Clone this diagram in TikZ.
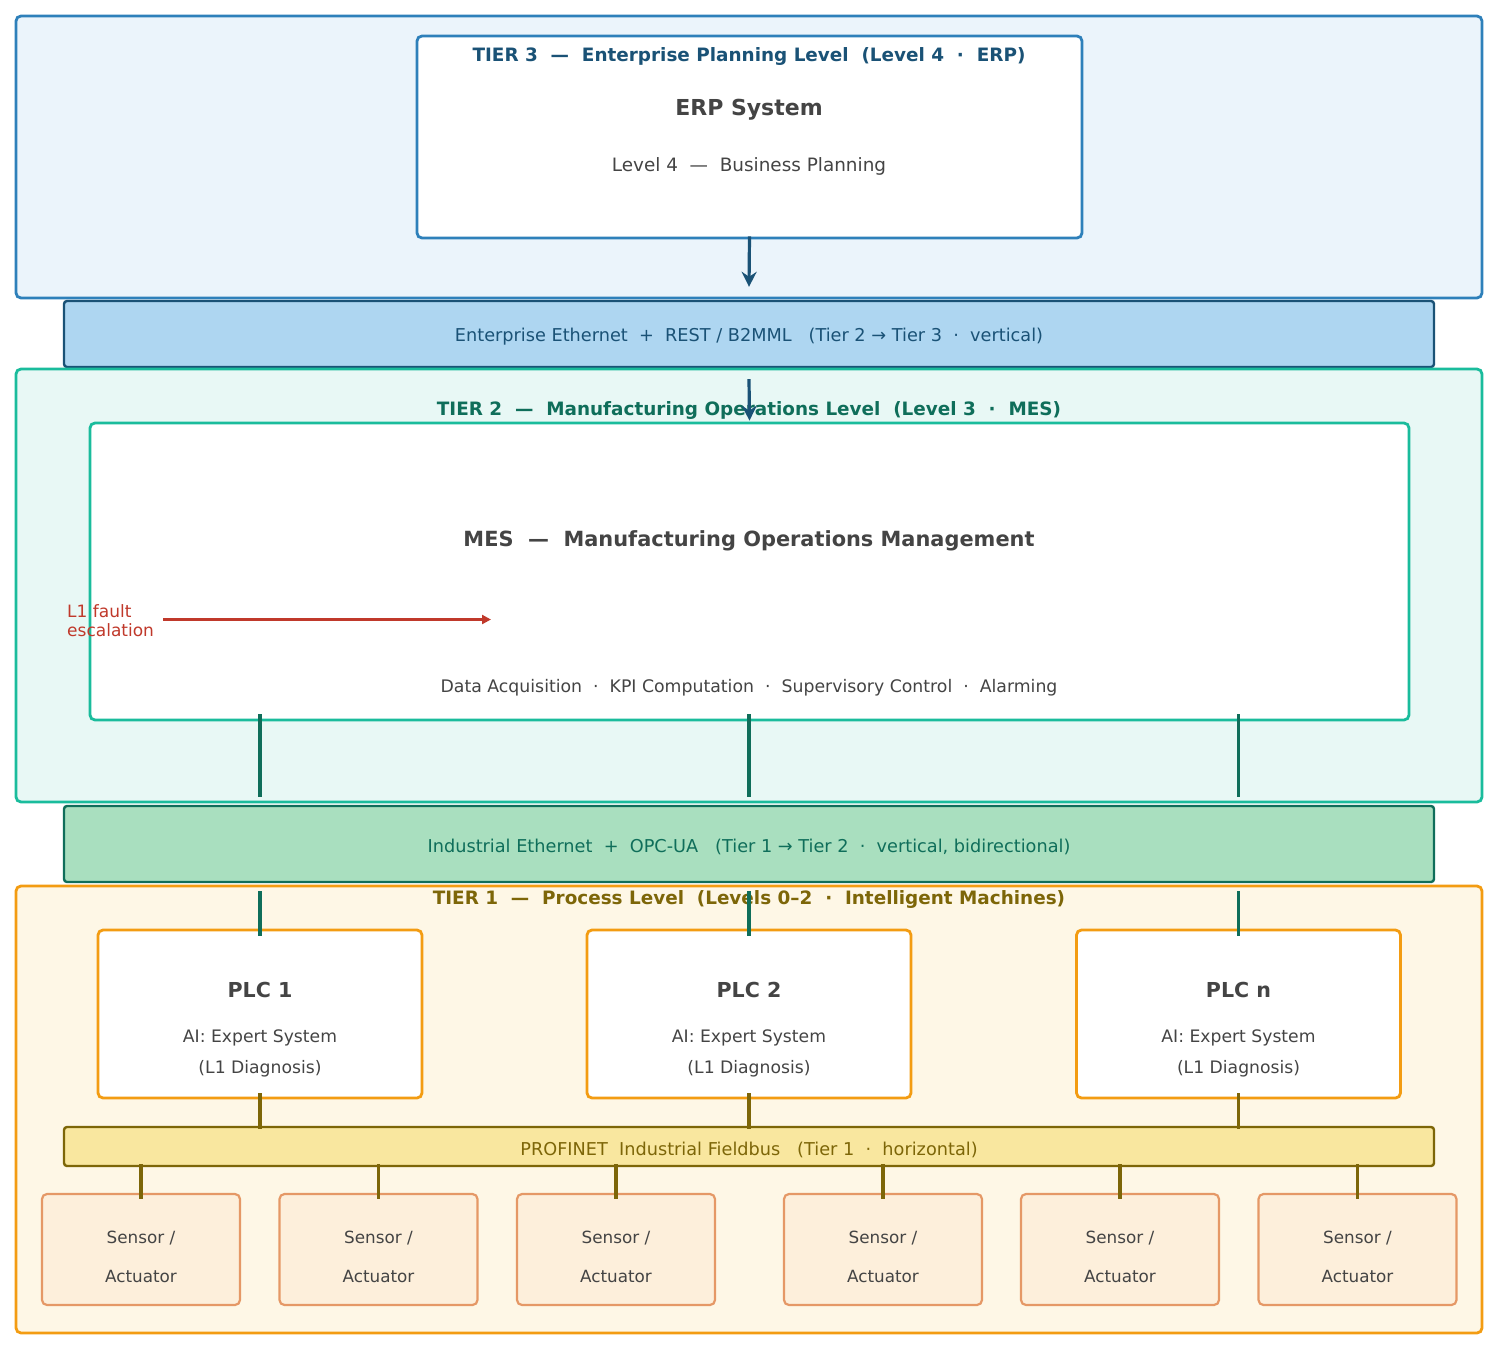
\documentclass[tikz,border=0pt]{standalone}
\usepackage{fontspec}
\setmainfont{DejaVu Sans}
\usetikzlibrary{arrows.meta}
\definecolor{tthreefill}{HTML}{EBF4FB}
\definecolor{tthreeline}{HTML}{2E80BA}
\definecolor{darkblue}{HTML}{1A5276}
\definecolor{bandone}{HTML}{AED6F1}
\definecolor{ttwofill}{HTML}{E8F8F5}
\definecolor{ttwoline}{HTML}{1ABC9C}
\definecolor{darkgreen}{HTML}{0F6E5A}
\definecolor{bandtwo}{HTML}{A9DFBF}
\definecolor{tonefill}{HTML}{FEF7E6}
\definecolor{toneline}{HTML}{F39C12}
\definecolor{olive}{HTML}{7D6608}
\definecolor{bandthree}{HTML}{F9E79F}
\definecolor{sensfill}{HTML}{FDEFDB}
\definecolor{sensline}{HTML}{E59866}
\definecolor{txtgray}{HTML}{444444}
\definecolor{faultred}{HTML}{C0392B}
\begin{document}
\begin{tikzpicture}[x=1pt,y=-1pt,
  box/.style={rectangle,rounded corners=5pt,inner sep=0pt,line width=2.8pt},
  tierthree/.style={box,draw=tthreeline,fill=tthreefill},
  tiertwo/.style={box,draw=ttwoline,fill=ttwofill},
  tierone/.style={box,draw=toneline,fill=tonefill},
  bandbox/.style={rectangle,rounded corners=3pt,inner sep=0pt,line width=2.4pt},
  sensbox/.style={rectangle,rounded corners=5pt,inner sep=0pt,line width=2.2pt,draw=sensline,fill=sensfill},
  plcbox/.style={box,draw=toneline,fill=white},
  txt/.style={inner sep=0pt,yshift=-2.5pt},
  ttl/.style={txt,font=\fontsize{18.4}{22}\selectfont\bfseries},
  big/.style={txt,font=\fontsize{22}{26}\selectfont\bfseries,text=txtgray},
  norm/.style={txt,font=\fontsize{17.2}{20}\selectfont,text=txtgray},
  bandtxt/.style={txt,font=\fontsize{17.7}{21}\selectfont},
  conn/.style={line width=3.2pt},
  arr/.style={line width=3.2pt,draw=darkblue,-{Stealth[length=15pt,width=15pt,inset=5pt]}}
]
\useasboundingbox (0,0) rectangle (1497,1347);

% ---- Tier 3
\node[tierthree,minimum width=1466pt,minimum height=282pt] (t3) at (749,157) {};
\node[box,draw=tthreeline,fill=white,minimum width=665pt,minimum height=202pt] (erp) at (749.5,137) {};
\node[ttl,text=darkblue] (t3title) at (749,54) {TIER 3~~—~~Enterprise Planning Level~~(Level 4~~·~~ERP)};
\node[big] (erptitle) at (749,107) {ERP System};
\node[norm,font=\fontsize{18.4}{22}\selectfont] (erpsub) at (749,164) {Level 4~~—~~Business Planning};

% ---- Band 1
\node[bandbox,draw=darkblue,fill=bandone,minimum width=1370pt,minimum height=66pt] (band1) at (749,334) {};
\node[bandtxt,text=darkblue] (band1txt) at (749,334) {Enterprise Ethernet~~+~~REST / B2MML~~~(Tier 2 → Tier 3~~·~~vertical)};

% ---- Tier 2
\node[tiertwo,minimum width=1466pt,minimum height=433pt] (t2) at (749,585.5) {};
\node[ttl,text=darkgreen] (t2title) at (749,408) {TIER 2~~—~~Manufacturing Operations Level~~(Level 3~~·~~MES)};
\node[box,draw=ttwoline,fill=white,minimum width=1319pt,minimum height=297pt] (mes) at (749.5,571.5) {};
\node[big,font=\fontsize{20.9}{25}\selectfont\bfseries] (mestitle) at (749,538) {MES~~—~~Manufacturing Operations Management};
\node[norm,font=\fontsize{17.3}{20}\selectfont] (messub) at (749,685) {Data Acquisition~~·~~KPI Computation~~·~~Supervisory Control~~·~~Alarming};
\node[font=\fontsize{17}{19.5}\selectfont,text=faultred,align=left,anchor=west,inner sep=0pt,yshift=-1pt] (fault) at (67,619.5) {L1 fault\\escalation};
\coordinate (faultend) at (491,619.5);
\draw[line width=3pt,draw=faultred,-{Triangle[length=9pt,width=9pt]}] ([xshift=9pt]fault.east |- faultend) -- (faultend);

% ---- Band 2
\node[bandbox,draw=darkgreen,fill=bandtwo,minimum width=1370pt,minimum height=76pt] (band2) at (749,844) {};
\node[bandtxt,text=darkgreen] (band2txt) at (749,844) {Industrial Ethernet~~+~~OPC-UA~~~(Tier 1 → Tier 2~~·~~vertical, bidirectional)};

% ---- Tier 1
\node[tierone,minimum width=1466pt,minimum height=447pt] (t1) at (749,1109.5) {};
\node[ttl,text=olive] (t1title) at (749,897) {TIER 1~~—~~Process Level~~(Levels 0–2~~·~~Intelligent Machines)};

\foreach \n/\x/\lab in {1/260/PLC 1,2/749/PLC 2,3/1238.5/PLC n}{
  \node[plcbox,minimum width=324pt,minimum height=168pt] (plc\n) at (\x,1014) {};
  \node[big,font=\fontsize{20.6}{24}\selectfont\bfseries] (plc\n title) at (\x,987) {\lab};
  \node[norm] (plc\n a) at (\x,1035) {AI: Expert System};
  \node[norm] (plc\n b) at (\x,1066) {(L1 Diagnosis)};
}

% ---- Band 3
\node[bandbox,draw=olive,fill=bandthree,minimum width=1370pt,minimum height=39pt] (band3) at (749,1146.5) {};
\node[bandtxt,text=olive] (band3txt) at (749,1147) {PROFINET~~Industrial Fieldbus~~~(Tier 1~~·~~horizontal)};

\foreach \n/\x in {1/141,2/378.5,3/616,4/883,5/1120,6/1357.5}{
  \node[sensbox,minimum width=198pt,minimum height=111pt] (s\n) at (\x,1249.5) {};
  \node[norm,font=\fontsize{16.8}{20}\selectfont] (s\n a) at (\x,1236) {Sensor /};
  \node[norm,font=\fontsize{16.8}{20}\selectfont] (s\n b) at (\x,1274) {Actuator};
  \draw[conn,draw=olive] ([yshift=3pt]band3.south -| s\n.north) -- ([yshift=-6pt]s\n.north);
}

% ---- connectors
\draw[arr] ([yshift=3pt]erp.south) -- ([yshift=13pt]band1.north);
\draw[arr] ([yshift=-11pt]band1.south) -- ([yshift=1pt]mes.north);

\foreach \n in {1,2,3}{
  \draw[conn,draw=darkgreen] ([yshift=7pt]mes.south -| plc\n.north) -- ([yshift=8pt]band2.north -| plc\n.north);
  \draw[conn,draw=darkgreen] ([yshift=-8pt]band2.south -| plc\n.north) -- ([yshift=-7pt]plc\n.north);
  \draw[conn,draw=olive] ([yshift=6pt]plc\n.south) -- ([yshift=-3pt]band3.north -| plc\n.south);
}
\end{tikzpicture}
\end{document}
